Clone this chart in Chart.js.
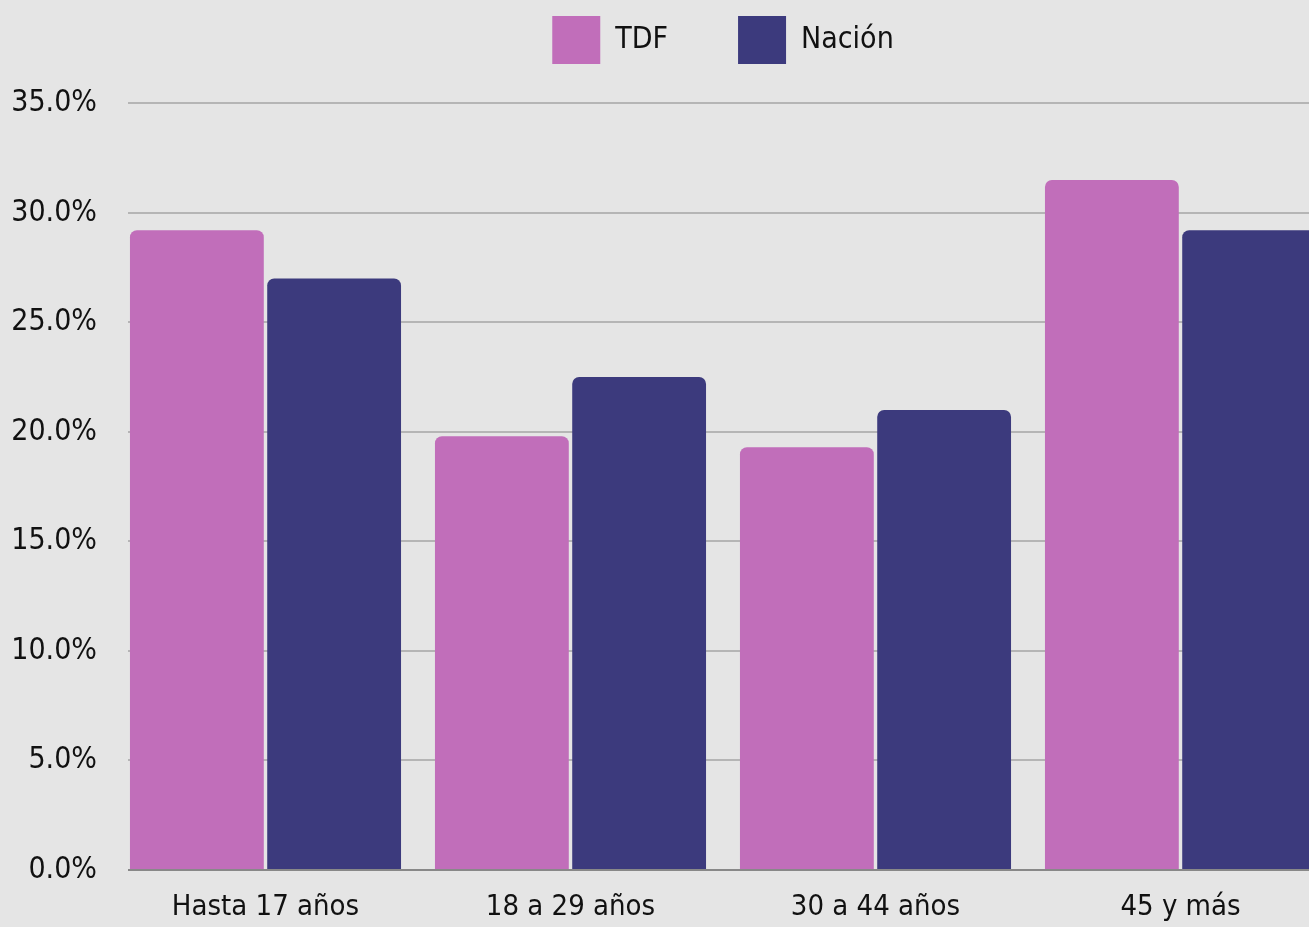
<!DOCTYPE html>
<html>
<head>
  <meta charset="utf-8">
  <title>TDF vs Nación</title>
  <script src="https://cdn.jsdelivr.net/npm/chart.js"></script>
  <style>
    html, body { margin: 0; padding: 0; background: #e5e5e5; overflow: hidden; }
    #wrap { width: 1333px; height: 960px; }
  </style>
</head>
<body>
  <div id="wrap"><canvas id="myChart"></canvas></div>
  <script>
    const categories = ['Hasta 17 años', '18 a 29 años', '30 a 44 años', '45 y más']
    const tdf = [29.2, 19.8, 19.3, 31.5]
    const nacion = [27.0, 22.5, 21.0, 29.2]
    const yTicks = [0, 5, 10, 15, 20, 25, 30, 35]

    const fontFamily = '"DejaVu Sans Condensed", "Liberation Sans Narrow", "Roboto", sans-serif'

    // hides the gridlines in the first 15px of the plot, as in the original
    const gridClip = {
      id: 'gridClip',
      beforeDatasetsDraw(chart) {
        const { ctx, chartArea } = chart
        ctx.save()
        ctx.fillStyle = '#e5e5e5'
        ctx.fillRect(chartArea.left - 3, chartArea.top - 2, 18, chartArea.bottom - chartArea.top + 6)
        ctx.restore()
      }
    }

    const ctx = document.getElementById('myChart').getContext('2d')
    new Chart(ctx, {
      type: 'bar',
      data: {
        labels: categories,
        datasets: [
          { label: 'TDF', data: tdf, backgroundColor: '#c16eba', borderRadius: { topLeft: 7, topRight: 7 }, borderSkipped: 'bottom' },
          { label: 'Nación', data: nacion, backgroundColor: '#3c3a7d', borderRadius: { topLeft: 7, topRight: 7 }, borderSkipped: 'bottom' }
        ]
      },
      plugins: [gridClip],
      options: {
        responsive: true,
        maintainAspectRatio: false,
        animation: false,
        categoryPercentage: 0.9,
        barPercentage: 0.975,
        layout: { padding: { top: -54, right: 0, left: 0, bottom: 0 } },
        plugins: {
          tooltip: { enabled: false },
          // empty spacer between the legend and the plot
          title: {
            display: true,
            text: ' ',
            weight: 500,
            fullSize: false,
            font: { size: 1 },
            padding: { top: 0, bottom: 28 }
          },
          legend: {
            fullSize: false,
            labels: {
              boxWidth: 48,
              boxHeight: 48,
              padding: 70,
              color: '#111',
              font: { family: fontFamily, size: 30 }
            }
          }
        },
        scales: {
          x: {
            grid: { display: false, drawTicks: false },
            border: { display: true, color: '#888', width: 2 },
            ticks: { color: '#111', padding: 20, font: { family: fontFamily, size: 29 } },
            afterFit(scale) { scale.height = 90 }
          },
          y: {
            min: 0,
            max: 35,
            afterBuildTicks(scale) { scale.ticks = yTicks.map(v => ({ value: v })) },
            grid: { color: '#b5b5b5', lineWidth: 2, drawTicks: false },
            border: { display: false },
            ticks: {
              color: '#111',
              padding: 16,
              font: { family: fontFamily, size: 30 },
              callback: v => v.toFixed(1) + '%'
            },
            afterFit(scale) { scale.width = 113 }
          }
        }
      }
    })
  </script>
</body>
</html>
